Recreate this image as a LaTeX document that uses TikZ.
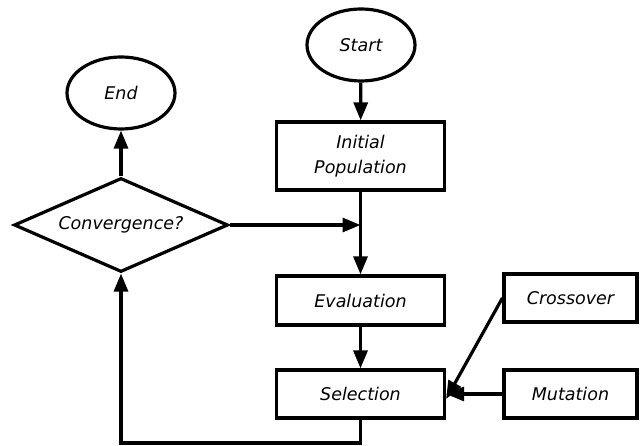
\documentclass[tikz,border=0pt]{standalone}
\usepackage{fontspec}
\setmainfont{DejaVu Sans}
\usetikzlibrary{shapes.geometric,arrows.meta}
\begin{document}
\begin{tikzpicture}[x=1pt,y=-1pt,
  every node/.style={font=\fontsize{17.5}{25}\selectfont\itshape, line width=3.2pt, draw, inner sep=0pt, align=center},
  term/.style={ellipse, minimum width=108pt, minimum height=72pt},
  proc/.style={rectangle, minimum width=168pt},
  dec/.style={diamond, minimum width=214pt, minimum height=94pt, aspect=2.3},
  conn/.style={line width=3.2pt, -{Triangle[length=18pt,width=14pt]}},
  plain/.style={line width=3.2pt}]
\useasboundingbox (0,0) rectangle (641,446);
\node[term] (start) at (361,45) {Start};
\node[term] (end) at (121,93) {End};
\node[proc, minimum height=68pt] (init) at (360.5,156) {Initial\\Population};
\node[dec] (conv) at (121,225) {Convergence?};
\node[proc, minimum height=49pt] (eval) at (360.5,300.5) {Evaluation};
\node[proc, minimum height=48pt] (sel) at (360.5,394) {Selection};
\node[rectangle, minimum width=133pt, minimum height=48pt] (cross) at (570.5,298) {Crossover};
\node[rectangle, minimum width=133pt, minimum height=48pt] (mut) at (570.5,394) {Mutation};
\coordinate (j) at (360.5,225);
\coordinate (b1) at (360.5,443);
\coordinate (b2) at (121,443);
\draw[conn] (start) -- (init);
\draw[plain] (init) -- (j);
\draw[conn] (j) -- (eval);
\draw[conn] (conv.east) -- (j);
\draw[conn] (conv.north) -- (end);
\draw[conn] (eval) -- (sel);
\draw[conn] (cross.west) -- ([yshift=-5pt]sel.east);
\draw[conn] (mut.west) -- (sel.east);
\draw[conn] (sel.south) -- (b1) -- (b2) -- (conv.south);
\end{tikzpicture}
\end{document}
